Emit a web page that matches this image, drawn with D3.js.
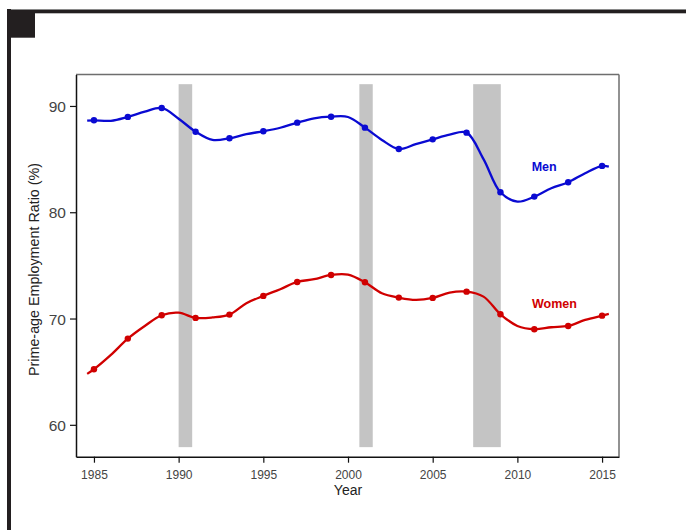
<!DOCTYPE html>
<html>
<head>
<meta charset="utf-8">
<script src="https://cdn.jsdelivr.net/npm/d3@7"></script>
<style>
  body { margin: 0; background: #fff; }
  svg { display: block; font-family: "Liberation Sans", Arial, sans-serif; }
</style>
</head>
<body>
<svg width="686" height="530"></svg>
<script>
// points shown every two years
const pointYears = [1985, 1987, 1989, 1991, 1993, 1995, 1997, 1999, 2001, 2003, 2005, 2007, 2009, 2011, 2013, 2015];
const menPoints = [88.65, 88.97, 89.81, 87.58, 86.96, 87.62, 88.43, 88.99, 87.96, 85.95, 86.86, 87.49, 81.88, 81.47, 82.82, 84.36];
const womenPoints = [65.23, 68.11, 70.31, 70.06, 70.37, 72.13, 73.44, 74.10, 73.41, 71.97, 71.94, 72.53, 70.40, 68.99, 69.30, 70.27];

// smoothed lines
const lineYears = [1984.6, 1985, 1986, 1987, 1988, 1989, 1990, 1991, 1992, 1993, 1994, 1995, 1996, 1997, 1998, 1999,
    2000, 2001, 2002, 2003, 2004, 2005, 2006, 2007, 2008, 2009, 2010, 2011, 2012, 2013, 2014, 2015, 2015.4];
const menLine = [88.62, 88.65, 88.6, 88.97, 89.46, 89.81, 88.8, 87.58, 86.8, 86.96, 87.35, 87.62, 87.95, 88.43, 88.84, 88.99,
    88.96, 87.96, 86.8, 85.95, 86.4, 86.86, 87.3, 87.49, 85.0, 81.88, 81.0, 81.47, 82.26, 82.82, 83.67, 84.36, 84.3];
const womenLine = [64.79, 65.23, 66.58, 68.11, 69.3, 70.31, 70.55, 70.06, 70.1, 70.37, 71.44, 72.13, 72.76, 73.44, 73.7, 74.10,
    74.13, 73.41, 72.38, 71.97, 71.75, 71.94, 72.44, 72.53, 72.06, 70.40, 69.3, 68.99, 69.18, 69.30, 69.87, 70.27, 70.43];

// recession shading
const recStart = [1990.0, 2000.67, 2007.39];
const recEnd = [1990.8, 2001.46, 2009.02];

const xTicks = [1985, 1990, 1995, 2000, 2005, 2010, 2015];
const yTicks = [60, 70, 80, 90];

const svg = d3.select("svg");

// page decoration
svg.append("rect").attr("x", 7).attr("y", 9).attr("width", 679).attr("height", 1).attr("fill", "#8a8a8a");
svg.append("rect").attr("x", 7).attr("y", 10).attr("width", 679).attr("height", 3.3).attr("fill", "#231f20");
svg.append("rect").attr("x", 7).attr("y", 9).attr("width", 4).attr("height", 521).attr("fill", "#231f20");
svg.append("rect").attr("x", 11).attr("y", 13).attr("width", 24).attr("height", 24.7).attr("fill", "#231f20");

const pLeft = 76, pRight = 619, pTop = 74.5, pBottom = 456.7;

const x = d3.scaleLinear().domain([1983.94, 2016]).range([pLeft, pRight]);
const y = d3.scaleLinear().domain([57, 92.96]).range([pBottom, pTop]);

// recession bars
svg.selectAll(".rec")
    .data(recStart)
    .enter()
    .append("rect")
    .attr("class", "rec")
    .attr("x", d => x(d))
    .attr("width", (d, i) => x(recEnd[i]) - x(d))
    .attr("y", y(92.05))
    .attr("height", y(57.9) - y(92.05))
    .attr("fill", "#c4c4c4");

// frame
svg.append("line").attr("x1", pLeft).attr("x2", pRight).attr("y1", pTop).attr("y2", pTop)
    .attr("stroke", "#6e6e6e").attr("stroke-width", 1.5);
svg.append("line").attr("x1", pRight).attr("x2", pRight).attr("y1", pTop).attr("y2", pBottom)
    .attr("stroke", "#6e6e6e").attr("stroke-width", 1.5);

const xAxis = svg.append("g")
    .attr("transform", `translate(0,${pBottom})`)
    .call(d3.axisBottom(x).tickValues(xTicks).tickFormat(d3.format("d")).tickSize(6).tickSizeOuter(0));
const yAxis = svg.append("g")
    .attr("transform", `translate(${pLeft},0)`)
    .call(d3.axisLeft(y).tickValues(yTicks).tickSize(6).tickSizeOuter(0));

[xAxis, yAxis].forEach(a => {
    a.select(".domain").attr("stroke", "#111").attr("stroke-width", 1.5);
    a.selectAll(".tick line").attr("stroke", "#111").attr("stroke-width", 1.2);
    a.selectAll(".tick text").attr("fill", "#444").attr("font-family", "Liberation Sans, Arial, sans-serif");
});
xAxis.selectAll(".tick text").attr("font-size", 12).attr("dy", 0).attr("y", 22.5);
yAxis.selectAll(".tick text").attr("font-size", 15.5).attr("x", -10).attr("dy", "0.36em");

// axis titles
svg.append("text")
    .attr("x", x(2000)).attr("y", 495)
    .attr("text-anchor", "middle")
    .attr("font-size", 14).attr("fill", "#222")
    .text("Year");
svg.append("text")
    .attr("transform", "translate(38.5,269.5) rotate(-90)")
    .attr("text-anchor", "middle")
    .attr("font-size", 14.3).attr("fill", "#222")
    .text("Prime-age Employment Ratio (%)");

const line = d3.line()
    .x((d, i) => x(lineYears[i]))
    .y(d => y(d))
    .curve(d3.curveCatmullRom.alpha(0.5));

const series = [
    { name: "Men", line: menLine, points: menPoints, color: "#0a0ad2", lx: 531.7, ly: 170.7 },
    { name: "Women", line: womenLine, points: womenPoints, color: "#d00000", lx: 532, ly: 308.3 }
];

series.forEach(s => {
    svg.append("path")
        .datum(s.line)
        .attr("d", line)
        .attr("fill", "none")
        .attr("stroke", s.color)
        .attr("stroke-width", 2.3);

    svg.selectAll(".pt-" + s.name)
        .data(s.points)
        .enter()
        .append("circle")
        .attr("cx", (d, i) => x(pointYears[i]))
        .attr("cy", d => y(d))
        .attr("r", 3.2)
        .attr("fill", s.color);

    svg.append("text")
        .attr("x", s.lx).attr("y", s.ly)
        .attr("font-size", 12.5).attr("font-weight", "bold")
        .attr("fill", s.color)
        .text(s.name);
});
</script>
</body>
</html>
